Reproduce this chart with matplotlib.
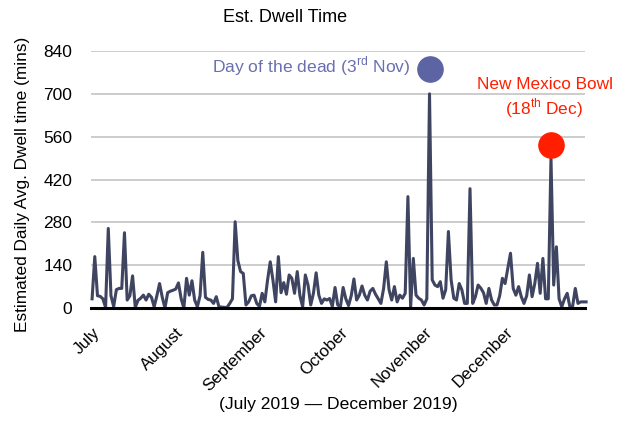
import matplotlib
matplotlib.use("Agg")
import matplotlib.pyplot as plt
import numpy as np

fam = 'Liberation Sans'
plt.rcParams['font.family'] = [fam, 'DejaVu Sans']
plt.rcParams['mathtext.fontset'] = 'custom'
plt.rcParams['mathtext.rm'] = fam

july = [30, 168, 40, 38, 30, 2, 260, 40, 5, 60, 64, 64, 246, 26, 40, 105, 2, 25, 32, 42,
        26, 45, 35, 4, 40, 80, 35, 0, 50, 55, 58]
august = [62, 82, 30, 0, 97, 42, 89, 26, 4, 40, 182, 35, 28, 26, 15, 37, 4, 3, 2, 2,
          15, 30, 282, 155, 119, 113, 10, 20, 40, 42, 15]
september = [5, 48, 20, 91, 151, 91, 20, 168, 50, 83, 45, 108, 97, 48, 119, 40, 4, 108, 75, 10,
             48, 115, 42, 15, 30, 26, 31, 5, 67, 10]
october = [4, 67, 30, 8, 40, 95, 26, 42, 72, 42, 26, 55, 64, 45, 30, 15, 64, 151, 60, 26,
           70, 20, 42, 32, 48, 364, 2, 162, 42, 32, 26]
november = [10, 30, 700, 92, 75, 70, 86, 32, 60, 250, 92, 32, 26, 80, 59, 15, 15, 390, 15, 37,
            75, 65, 50, 15, 64, 26, 10, 10, 40, 97]
december = [80, 130, 179, 64, 42, 70, 37, 15, 40, 108, 37, 80, 146, 48, 162, 30, 30, 490, 75, 200,
            30, 4, 30, 48, 4, 5, 64, 15, 20, 20, 20]

months = ["July", "August", "September", "October", "November", "December"]
month_lengths = [len(july), len(august), len(september), len(october), len(november), len(december)]
yticks = [0, 140, 280, 420, 560, 700, 840]

events = ["Day of the dead", "New Mexico Bowl"]
event_day = [125, 170]        # day index from 1 Jul
event_marker_value = [781, 533]

values = np.array(july + august + september + october + november + december, dtype=float)
days = np.arange(len(values))
month_starts = np.cumsum([0] + month_lengths[:-1])

fig = plt.figure(figsize=(6.29, 4.25), dpi=100)
ax = fig.add_axes([91/629, 1-308/425, (585-91)/629, (308-51)/425])

ax.plot(days, values, color='#3f4461', lw=2.2, solid_joinstyle='round', zorder=3, clip_on=False)

ax.set_xlim(-0.4, 182.6)
ax.set_ylim(0, 840)
ax.set_yticks(yticks)
ax.set_yticklabels([str(v) for v in yticks], fontsize=12.5)
ax.yaxis.grid(True, color='#c4c4c4', lw=1.2)
ax.set_axisbelow(True)
ax.tick_params(axis='y', length=0, pad=13.5)
ax.tick_params(axis='x', length=0, pad=12)
for s in ['left', 'right', 'top']:
    ax.spines[s].set_visible(False)
ax.spines['bottom'].set_color('black')
ax.spines['bottom'].set_linewidth(2.2)
ax.spines['bottom'].set_zorder(4)

ax.set_xticks(month_starts)
ax.set_xticklabels(months, rotation=45, ha='right', rotation_mode='anchor', fontsize=12.2)

ax.scatter([event_day[0]], [event_marker_value[0]], s=330, color='#5c64a4', zorder=5, clip_on=False)
ax.scatter([event_day[1]], [event_marker_value[1]], s=330, color='#ff1f00', zorder=5, clip_on=False)

ax.text(event_day[0] - 7, 791, events[0] + r" (3$^{\mathregular{rd}}$ Nov)", color='#6a6fb0',
        fontsize=12.6, ha='right', va='center')
ax.text(167.8, 729, events[1], color='#ff1f00', fontsize=12.4, ha='center', va='center')
ax.text(181.9, 654, r"(18$^{\mathregular{th}}$ Dec)", color='#ff1f00', fontsize=12.4, ha='right', va='center')

fig.text(285/629, 1-18/425, "Est. Dwell Time", fontsize=13, ha='center', va='center')
fig.text(23/629, 1-184/425, "Estimated Daily Avg. Dwell time (mins)", fontsize=12.4,
         rotation=90, ha='center', va='center')
fig.text(338/629, 1-405/425, "(July 2019 \u2014 December 2019)", fontsize=12.6, ha='center', va='center')

fig.savefig("out.png", dpi=100)
